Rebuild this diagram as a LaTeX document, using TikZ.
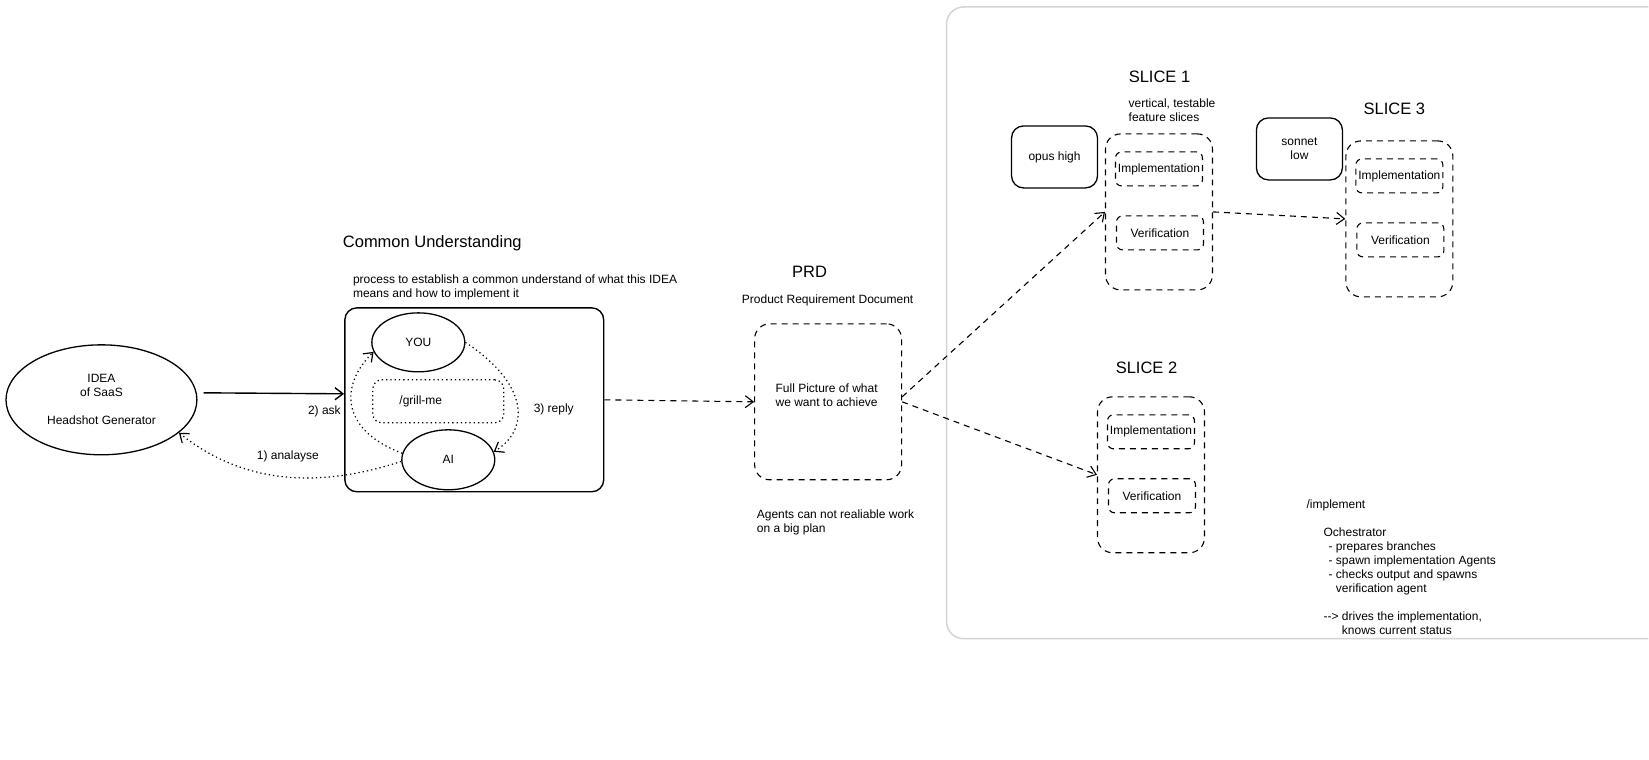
\documentclass[tikz,border=0pt]{standalone}
\usepackage{fontspec}
\setmainfont{Liberation Sans}
\usetikzlibrary{arrows.meta,shapes.geometric}

\begin{document}
\begin{tikzpicture}[x=1pt,y=-1pt,
    every node/.style={font=\fontsize{12}{14}\selectfont},
    lbl/.style={inner sep=0pt},
    ttl/.style={inner sep=0pt,font=\fontsize{16.5}{19}\selectfont},
    oval/.style={draw,ellipse,line width=1.3pt,inner sep=0pt},
    solidbox/.style={draw,rounded corners=12pt,line width=1.3pt,inner sep=0pt},
    dashbox/.style={draw,dash pattern=on 6pt off 5pt,rounded corners=15pt,line width=1.1pt,inner sep=0pt},
    partbox/.style={draw,dash pattern=on 6pt off 5pt,rounded corners=6pt,line width=1.1pt,inner sep=0pt,minimum width=87pt,minimum height=34pt},
    dotline/.style={dash pattern=on 1.3pt off 3pt,line width=1.2pt},
    dashline/.style={dash pattern=on 6pt off 5pt,line width=1.1pt},
    barb/.style={-{Straight Barb[length=8pt,width=12pt]}},
  ]
  \path[fill=white] (0,0) rectangle (1649,760);
  % panel on the right
  \draw[black!17,line width=1.5pt,rounded corners=17pt] (1649,7) -- (947,7) -- (947,639) -- (1649,639);

  \node[oval,minimum width=191pt,minimum height=110pt,align=center] (idea) at (101.5,400) {IDEA\\of SaaS\\[14pt]Headshot Generator};

  \node[ttl] (cutitle) at (432.5,243) {Common Understanding};
  \node[lbl,anchor=west,align=left] (cunote) at (353,288) {process to establish a common understand of what this IDEA\\means and how to implement it};
  \node[solidbox,minimum width=259pt,minimum height=184pt,line width=1.4pt] (cu) at (474.5,400) {};
  \node[oval,minimum width=93pt,minimum height=59pt] (you) at (418.5,342.5) {YOU};
  \node[draw,dotline,rounded corners=9pt,minimum width=131pt,minimum height=43pt] (grill) at (438.5,401.5) {};
  \node[lbl] (grilltext) at (421,402) {/grill-me};
  \node[oval,minimum width=93pt,minimum height=60pt] (ai) at (448.5,460) {AI};

  \draw[line width=1.4pt,barb] ([xshift=6pt,yshift=7pt]idea.east) -- ([yshift=6pt]cu.west);
  \draw[dotline,barb] (ai.182) .. controls (330,485) and (250,490) .. (idea.-23); % 1)
  \draw[dotline,barb] (ai.172) .. controls (340,430) and (340,385) .. (you.192); % 2)
  \draw[dotline,barb] (you.east) .. controls (530,385) and (530,430) .. (ai.10); % 3)
  \node[lbl] (analysel) at (288,457) {1) analayse};
  \node[lbl] (askl) at (324.5,412) {2) ask};
  \node[lbl] (replyl) at (554,410) {3) reply};

  % PRD
  \node[ttl] (prdtitle) at (810,272) {PRD};
  \node[lbl] (prdsub) at (828,301) {Product Requirement Document};
  \node[dashbox,minimum width=147pt,minimum height=156pt] (prd) at (828.5,402) {};
  \node[lbl,align=center] (prdtext) at (827,395) {Full Picture of what\\we want to achieve};
  \node[lbl,anchor=west,align=left] (prdnote) at (757,523) {Agents can not realiable work\\on a big plan};
  \draw[dashline,barb] (cu.east) -- (prd.west);

  % slices
  \foreach \n/\x/\y in {1/1159.5/212, 2/1151.5/475, 3/1400/219}{
    \node[dashbox,minimum width=107pt,minimum height=156pt] (s\n) at (\x,\y) {};
    \node[partbox] (impl\n) at (\x,\y-43) {Implementation};
    \node[partbox] (verif\n) at (\x+1,\y+21) {Verification};
  }
  \node[ttl] (s1title) at (1160,77) {SLICE 1};
  \node[lbl,anchor=west,align=left] (s1note) at (1129,110) {vertical, testable\\feature slices};
  \node[ttl] (s2title) at (1147,368) {SLICE 2};
  \node[ttl] (s3title) at (1395,109) {SLICE 3};
  \node[solidbox,minimum width=86pt,minimum height=62pt] (opus) at (1055,157) {opus high};
  \node[solidbox,minimum width=86pt,minimum height=62pt,align=center] (sonnet) at (1300,149) {sonnet\\low};

  \draw[dashline,barb] ([yshift=5pt]prd.east) -- (s1.west);
  \draw[dashline,barb] (prd.east) -- (s2.west);
  \draw[dashline,barb] (s1.east) -- (s3.west);

  % orchestrator notes
  \node[lbl,anchor=west] (impcmd) at (1307,506) {/implement};
  \node[lbl,anchor=north west,align=left] (orch) at (1324,528) {Ochestrator\\
    \hspace*{5pt}- prepares branches\\
    \hspace*{5pt}- spawn implementation Agents\\
    \hspace*{5pt}- checks output and spawns\\
    \hspace*{5pt}\phantom{- }verification agent\\[14pt]
    -{}-> drives the implementation,\\
    \phantom{-{}-> }knows current status};
\end{tikzpicture}
\end{document}
